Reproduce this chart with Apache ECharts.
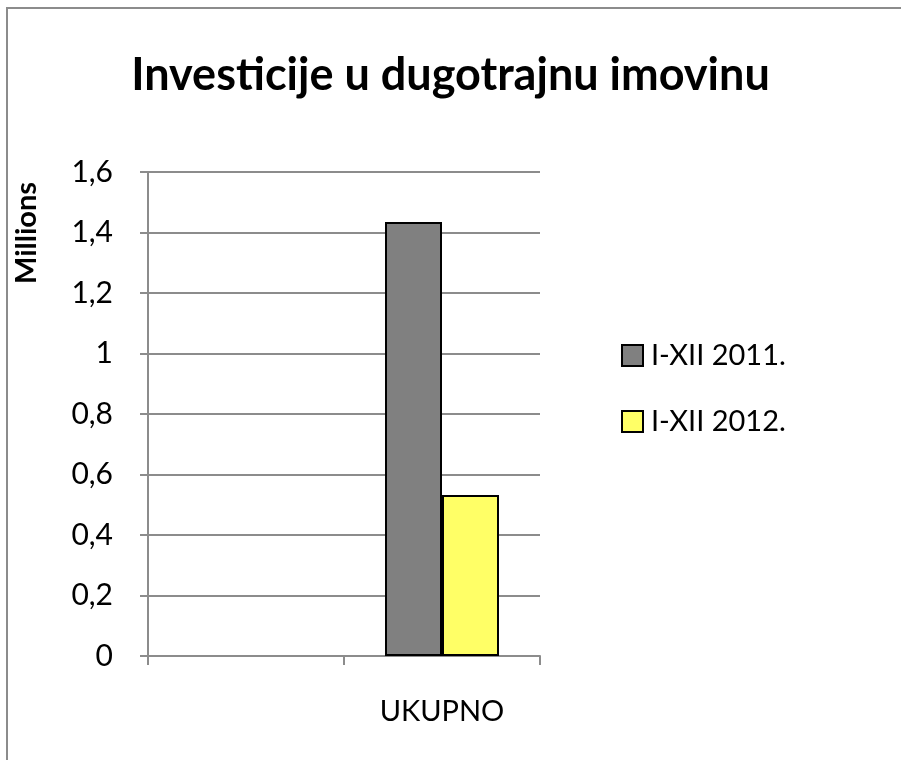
<!DOCTYPE html>
<html>
<head>
<meta charset="utf-8">
<script src="https://cdn.jsdelivr.net/npm/echarts@6/dist/echarts.min.js"></script>
<style>
html,body{margin:0;padding:0;background:#fff;}
#c{width:901px;height:760px;}
</style>
</head>
<body>
<div id="c"></div>
<script>
var titleText = 'Investicije u dugotrajnu imovinu';
var yAxisName = 'Millions';
var categories = ['', 'UKUPNO'];
var seriesNames = ['I-XII 2011.', 'I-XII 2012.'];
var values2011 = [null, 1.435];
var values2012 = [null, 0.532];
var yMin = 0, yMax = 1.6, yStep = 0.2;

var FONT = 'Lato, "Open Sans", sans-serif';
var chart = echarts.init(document.getElementById('c'), null, {renderer: 'canvas'});
function fmt(v){ return String(+(+v).toFixed(1)).replace('.', ','); }

chart.setOption({
  backgroundColor: '#ffffff',
  animation: false,
  graphic: [{
    type: 'polyline', shape: {points: [[7, 760], [7, 8], [901, 8]]},
    style: {fill: null, stroke: '#8c8c8c', lineWidth: 2}, silent: true, z: -1
  }, {
    type: 'text', x: 27, y: 233, rotation: Math.PI / 2,
    style: {text: yAxisName, fontFamily: FONT, fontWeight: 'bold', fontSize: 29,
      fill: '#000', align: 'center', verticalAlign: 'middle'}
  }],
  title: {
    text: titleText, left: 'center', top: 48,
    textStyle: {fontFamily: FONT, fontWeight: 'bold', fontSize: 45, color: '#000'}
  },
  legend: {
    orient: 'vertical', left: 616, top: 336, itemGap: 37,
    icon: 'rect', itemWidth: 21, itemHeight: 21,
    textStyle: {fontFamily: FONT, fontSize: 29, color: '#000', padding: [0,0,0,3]},
    data: seriesNames
  },
  grid: {left: 148, right: 361, top: 172, bottom: 104, containLabel: false},
  xAxis: {
    type: 'category', data: categories,
    axisLine: {lineStyle: {color: '#8c8c8c', width: 2}},
    axisTick: {show: true, length: 9, lineStyle: {color: '#8c8c8c', width: 2}},
    axisLabel: {fontFamily: FONT, fontSize: 29, color: '#000', margin: 41}
  },
  yAxis: {
    type: 'value', min: yMin, max: yMax, interval: yStep,
    axisLine: {show: true, lineStyle: {color: '#8c8c8c', width: 2}},
    axisTick: {show: true, length: 8, lineStyle: {color: '#8c8c8c', width: 2}},
    splitLine: {show: true, lineStyle: {color: '#8c8c8c', width: 2}},
    axisLabel: {fontFamily: FONT, fontSize: 30, color: '#000', margin: 35, formatter: fmt}
  },
  series: [{
    name: seriesNames[0], type: 'bar', data: values2011,
    barWidth: 57, barGap: '0%',
    itemStyle: {color: '#808080', borderColor: '#000', borderWidth: 2}
  }, {
    name: seriesNames[1], type: 'bar', data: values2012,
    barWidth: 57, barGap: '0%',
    itemStyle: {color: '#ffff66', borderColor: '#000', borderWidth: 2}
  }]
});
</script>
</body>
</html>
